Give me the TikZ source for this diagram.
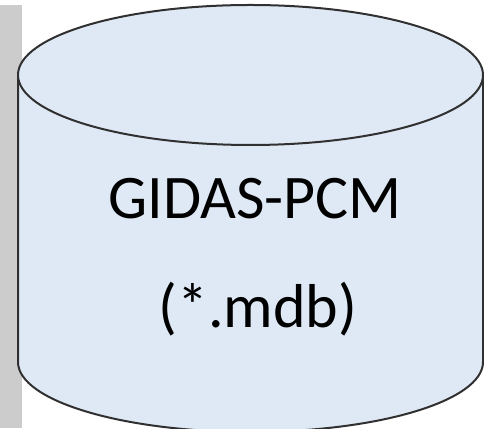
\documentclass[tikz,border=0pt]{standalone}
\usepackage{fontspec}
\setmainfont{Carlito}
\definecolor{barGray}{HTML}{CCCCCC}
\definecolor{cylFill}{HTML}{DFE9F5}
\definecolor{cylLine}{HTML}{303030}
\begin{document}
\begin{tikzpicture}[x=1pt,y=1pt,
  cylstyle/.style={fill=cylFill,draw=cylLine,line width=2pt},
  label/.style={font=\fontsize{62}{62}\selectfont,text=black,inner sep=0pt}]
\useasboundingbox (0,0) rectangle (484,428);
\fill[barGray] (0,0) rectangle (22,423);
% body
\path[cylstyle] (18,353) -- (18,66) arc[start angle=180,end angle=360,x radius=232.5,y radius=70] -- (483,353) -- cycle;
% top ellipse
\path[cylstyle] (250.5,353) ellipse[x radius=232.5,y radius=70];
\node[label,anchor=base] (name) at (255,209) {GIDAS-PCM};
\node[label,anchor=base] (ext) at (258,100) {(*.mdb)};
\end{tikzpicture}
\end{document}
